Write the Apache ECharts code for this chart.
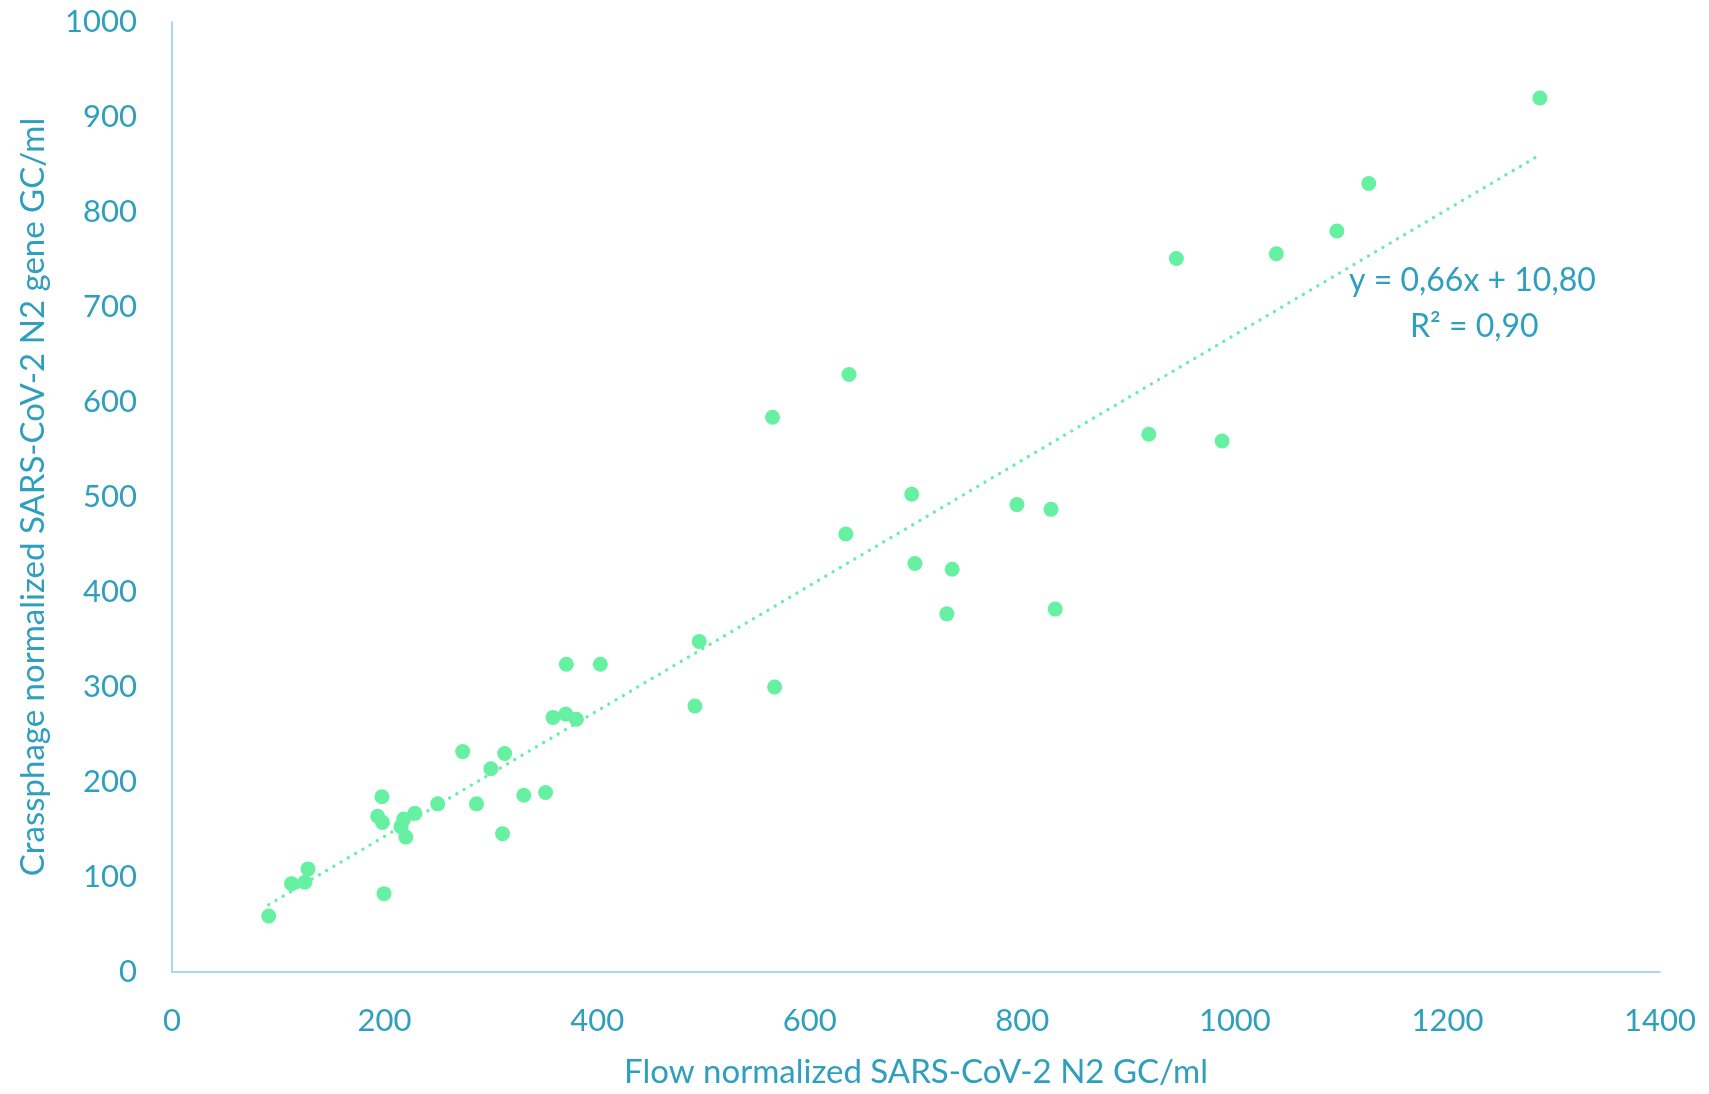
<!DOCTYPE html>
<html>
<head>
<meta charset="utf-8">
<script src="https://cdn.jsdelivr.net/npm/echarts@6/dist/echarts.min.js"></script>
<style>
html,body{margin:0;padding:0;background:#fff;}
#chart{width:1709px;height:1094px;}
</style>
</head>
<body>
<div id="chart"></div>
<script>
// Flow normalized SARS-CoV-2 N2 GC/ml (x)
const flowN2 = [91, 112.5, 125, 128, 197.5, 193.5, 198, 199.5, 218, 215.5, 220, 228.5, 250, 273.5, 286.5, 300, 313, 311, 331, 351.5, 358.5, 370.5, 380.5, 371, 403, 492, 496, 565, 567, 637, 634, 696, 699, 734, 729, 795, 827, 831, 919, 945, 988, 1039, 1096, 1126, 1287];
// Crassphage normalized SARS-CoV-2 N2 gene GC/ml (y)
const crassN2 = [59, 93, 94.5, 108.5, 184.5, 164, 157.5, 82.5, 161, 153, 142, 167, 177, 232, 177, 214, 230, 145.5, 186, 189, 268, 271.5, 266, 324, 324, 280, 348, 584, 300, 629, 461, 503, 430, 424, 377, 492, 487, 382, 566, 751, 559, 756, 780, 830, 920];
const xTicks = [0, 200, 400, 600, 800, 1000, 1200, 1400];
const yTicks = [0, 100, 200, 300, 400, 500, 600, 700, 800, 900, 1000];
const trendSlope = 0.66;
const trendIntercept = 10.80;
const equationText = 'y = 0,66x + 10,80';
const r2Text = 'R² = 0,90';
const xTitle = 'Flow normalized SARS-CoV-2 N2 GC/ml';
const yTitle = 'Crassphage normalized SARS-CoV-2 N2 gene GC/ml';

const points = flowN2.map((x, i) => [x, crassN2[i]]);
const xMinData = Math.min(...flowN2), xMaxData = Math.max(...flowN2);
const trend = [[xMinData, trendSlope * xMinData + trendIntercept], [xMaxData, trendSlope * xMaxData + trendIntercept]];

const textColor = '#2f9fc0';
const axisColor = '#a9d9e7';
const dotColor = '#66f0a2';
const font = 'Lato, "Open Sans", sans-serif';

const chart = echarts.init(document.getElementById('chart'));
chart.setOption({
  animation: false,
  backgroundColor: '#ffffff',
  grid: {left: 172, right: 49, top: 22, bottom: 119},
  xAxis: {
    type: 'value', min: xTicks[0], max: xTicks[xTicks.length - 1], interval: 200,
    name: xTitle, nameLocation: 'middle', nameGap: 84,
    nameTextStyle: {color: textColor, fontSize: 33, fontFamily: font, fontWeight: 'normal'},
    axisLine: {show: true, lineStyle: {color: axisColor, width: 2}},
    axisTick: {show: false},
    splitLine: {show: false},
    axisLabel: {color: textColor, fontSize: 31, fontFamily: font, margin: 33, formatter: v => String(v)}
  },
  yAxis: {
    type: 'value', min: yTicks[0], max: yTicks[yTicks.length - 1], interval: 100,
    name: yTitle, nameLocation: 'middle', nameGap: 122,
    nameTextStyle: {color: textColor, fontSize: 33, fontFamily: font, fontWeight: 'normal'},
    axisLine: {show: true, lineStyle: {color: axisColor, width: 2}},
    axisTick: {show: false},
    splitLine: {show: false},
    axisLabel: {color: textColor, fontSize: 31, fontFamily: font, margin: 35, formatter: v => String(v)}
  },
  series: [
    {
      type: 'line', data: trend, symbol: 'none', silent: true, z: 1,
      lineStyle: {color: dotColor, width: 3.3, type: [0.1, 8.3], cap: 'round'}
    },
    {
      type: 'scatter', data: points, symbolSize: 15, z: 2,
      itemStyle: {color: dotColor, opacity: 1}
    }
  ],
  graphic: [
    {type: 'text', left: 1349, top: 265, style: {text: equationText, fill: textColor, font: 'normal 32px ' + font}},
    {type: 'text', left: 1410, top: 311, style: {text: r2Text, fill: textColor, font: 'normal 32px ' + font}}
  ]
});
</script>
</body>
</html>
